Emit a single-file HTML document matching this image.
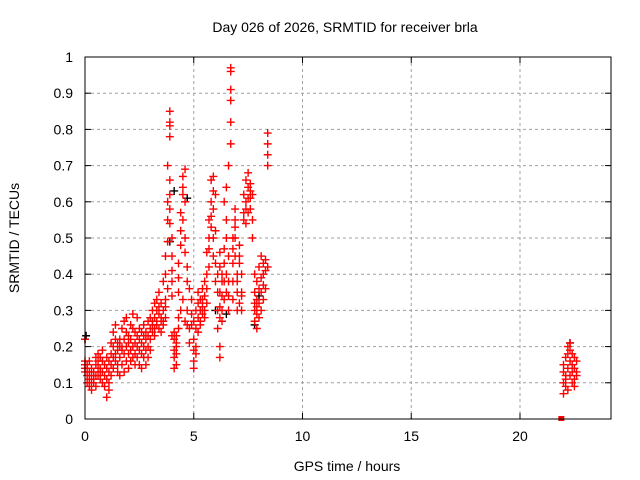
<!DOCTYPE html>
<html><head><meta charset="utf-8"><style>
body{margin:0;background:#fff;}
svg{display:block;font-family:"Liberation Sans",sans-serif;}
</style></head><body>
<svg id="chart" width="640" height="480">
<text x="345" y="32" font-size="14" text-anchor="middle">Day 026 of 2026, SRMTID for receiver brla</text>
<text x="347" y="471" font-size="14" text-anchor="middle">GPS time / hours</text>
<text transform="translate(19,238) rotate(-90)" font-size="14" text-anchor="middle">SRMTID / TECUs</text>
<g id="grid"></g>
<g id="ticks"></g>
<g id="marks"></g>
<rect x="85" y="57" width="526" height="362" fill="none" stroke="#000"/>
</svg>
<script>
const xTicks=[0,5,10,15,20];
const yTicks=[0,0.1,0.2,0.3,0.4,0.5,0.6,0.7,0.8,0.9,1];
const yTickLabels=["0","0.1","0.2","0.3","0.4","0.5","0.6","0.7","0.8","0.9","1"];
const colTimes=[0.0,0.1,0.2,0.3,0.4,0.5,0.6,0.7,0.8,0.9,
1.0,1.1,1.2,1.3,1.4,1.5,1.6,1.7,1.8,1.9,
2.0,2.1,2.2,2.3,2.4,2.5,2.6,2.7,2.8,2.9,
3.0,3.1,3.2,3.3,3.4,3.5,3.6,3.7,3.8,3.9,
4.0,4.1,4.2,4.3,4.4,4.5,4.6,4.7,4.8,4.9,
5.0,5.1,5.2,5.3,5.4,5.5,5.6,5.7,5.8,5.9,
6.0,6.1,6.2,6.3,6.4,6.5,6.6,6.7,6.8,6.9,
7.0,7.1,7.2,7.3,7.4,7.5,7.6,7.7,7.8,7.9,
8.0,8.1,8.2,8.3,8.4,
22.0,22.1,22.2,22.3,22.4,22.5,22.6];
const colValues=[
[.16,.14,.13,.15,.22],[.15,.12,.10,.14],[.11,.09,.13,.16,.10],[.08,.12,.10,.14],[.10,.13,.11],
[.12,.15,.17,.09],[.14,.18,.12,.16],[.11,.14,.17,.13],[.13,.10,.16,.19],[.12,.15,.09],
[.06,.11,.14,.17],[.10,.13,.16,.08],[.12,.15,.18,.21],[.14,.20,.24,.17],[.18,.22,.16,.26],
[.15,.19,.21,.13],[.17,.22,.12,.20],[.20,.25,.15,.19],[.22,.18,.27,.13],[.24,.28,.20,.16],
[.18,.21,.23,.14],[.19,.26,.16,.22],[.25,.29,.20,.17],[.21,.18,.24,.15],[.20,.23,.28,.17],
[.22,.15,.19,.25],[.24,.18,.21,.14],[.20,.23,.17,.26],[.22,.19,.24,.15],[.23,.27,.20,.17],
[.25,.22,.19,.28],[.26,.30,.24,.27],[.28,.25,.32,.23],[.27,.30,.26,.33],[.29,.25,.35,.31],
[.28,.24,.32,.27],[.30,.26,.38,.27],[.33,.40,.28,.31,.45],[.49,.55,.60,.70,.36],[.82,.85,.81,.78,.66,.62,.58,.54],
[.50,.45,.41,.38,.34,.23],[.22,.19,.24,.17,.14],[.20,.15,.23,.18,.21],[.25,.28,.35,.39,.43],[.48,.52,.57,.30],
[.62,.67,.64,.55,.33],[.69,.60,.50,.46,.27],[.42,.38,.30,.26],[.36,.25,.21],[.29,.33,.26],
[.22,.19,.16,.14,.27],[.25,.20,.18,.30],[.32,.28,.24,.35],[.30,.27,.33,.26],[.29,.33,.36,.31],
[.34,.38,.30,.28],[.36,.40,.32,.46],[.50,.55,.47,.42],[.56,.60,.66,.53],[.67,.63,.58,.50,.45],
[.62,.52,.43,.38],[.40,.35,.30,.25],[.46,.42,.35,.31,.28,.20,.17],[.40,.34,.38,.30,.27],[.43,.47,.38,.33,.60],
[.50,.55,.40,.35,.64],[.45,.34,.38,.30,.70],[.97,.96,.91,.88,.82,.76],[.43,.47,.38,.33,.50],[.50,.55,.58,.53,.45],
[.40,.35,.30,.38],[.48,.43,.45,.32],[.40,.35,.30,.34],[.57,.62,.55],[.60,.66,.58,.54],
[.68,.64,.61,.57],[.65,.61,.58,.63],[.62,.55,.50],[.40,.35,.30,.27,.32],[.38,.33,.29,.25,.31],
[.42,.36,.32,.28],[.39,.45,.35,.30],[.43,.40,.33,.37],[.44,.41,.36],[.79,.76,.73,.70,.42],
[.10,.13,.07,.15],[.12,.09,.17,.11],[.14,.18,.20,.08],[.19,.16,.12,.21],[.13,.18,.10,.15],[.17,.11,.14,.09],[.13,.16,.12]];
const zeroTimes=[21.9];
const zeroValues=[0];
const blackTimes=[0.0,0.05,3.9,4.1,4.7,6.0,6.5,7.8,8.0,22.3];
const blackValues=[.22,.23,.49,.63,.61,.30,.29,.26,.34,.21];
const X=t=>85+t*21.75, Y=v=>419-v*362;
const NS="http://www.w3.org/2000/svg";
const grid=document.getElementById('grid'),ticks=document.getElementById('ticks'),marks=document.getElementById('marks');
function mk(tag,attrs,parent){const e=document.createElementNS(NS,tag);for(const k in attrs)e.setAttribute(k,attrs[k]);parent.appendChild(e);return e;}
xTicks.forEach(t=>{const x=X(t);
 if(t>0){const g=mk('line',{x1:x,x2:x,y1:57,y2:419,stroke:'#a0a0a0','stroke-dasharray':'3,3'},grid);
 
 }
 mk('line',{x1:x,x2:x,y1:419,y2:413,stroke:'#000'},ticks);mk('line',{x1:x,x2:x,y1:57,y2:63,stroke:'#000'},ticks);
 const l=mk('text',{x:x,y:441,'font-size':14,'text-anchor':'middle'},ticks);l.textContent=t;
 
 });
yTicks.forEach((v,i)=>{const y=Y(v);
 if(v>0&&v<1){const g=mk('line',{x1:85,x2:611,y1:y,y2:y,stroke:'#a0a0a0','stroke-dasharray':'3,3'},grid);
 
 }
 mk('line',{x1:85,x2:91,y1:y,y2:y,stroke:'#000'},ticks);mk('line',{x1:611,x2:605,y1:y,y2:y,stroke:'#000'},ticks);
 const l=mk('text',{x:73,y:y+5,'font-size':14,'text-anchor':'end'},ticks);l.textContent=yTickLabels[i];
 
 });
function plus(x,y,c,name){const p=mk('path',{d:`M${x-4} ${y}H${x+4}M${x} ${y-4}V${y+4}`,stroke:c,'stroke-width':1.4},marks);
 
 }
blackTimes.forEach((t,i)=>plus(X(t),Y(blackValues[i]),'#000','black-point'));
colTimes.forEach((t,i)=>(colValues[i]||[]).forEach(v=>plus(X(t),Y(v),'#f00','red-point')));
zeroTimes.forEach((t,i)=>{const r=mk('rect',{x:X(t)-3,y:Y(zeroValues[i])-3,width:6,height:5,fill:'#f00'},marks);
 
 });
</script>
</body></html>
